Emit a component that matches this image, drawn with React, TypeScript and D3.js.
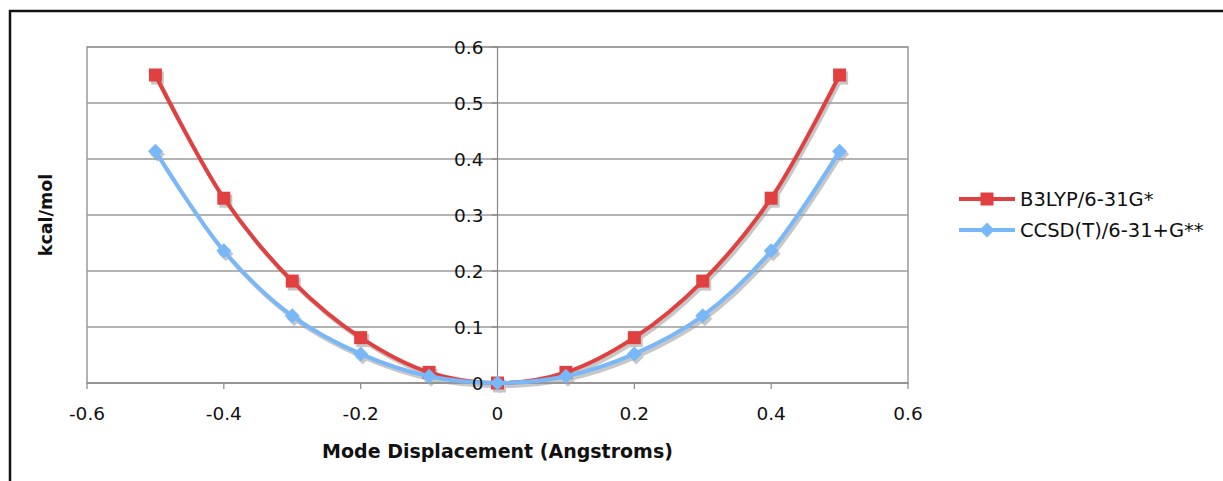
import * as d3 from "d3"

const xs = [-0.5, -0.4, -0.3, -0.2, -0.1, 0, 0.1, 0.2, 0.3, 0.4, 0.5]
const b3lyp = [0.55, 0.33, 0.182, 0.081, 0.019, 0, 0.019, 0.081, 0.182, 0.33, 0.55]
const ccsd = [0.414, 0.236, 0.12, 0.052, 0.012, 0, 0.012, 0.052, 0.12, 0.236, 0.414]
const xTicks = [-0.6, -0.4, -0.2, 0, 0.2, 0.4, 0.6]
const yTicks = [0, 0.1, 0.2, 0.3, 0.4, 0.5, 0.6]
const seriesNames = ["B3LYP/6-31G*", "CCSD(T)/6-31+G**"]

const W = 1223
const H = 481
const font = "'DejaVu Sans', sans-serif"

export default function App() {
  const x = d3.scaleLinear().domain([-0.6, 0.6]).range([87, 908])
  const y = d3.scaleLinear().domain([0, 0.6]).range([383, 47])

  const line = d3
    .line<number>()
    .x((_, i) => x(xs[i]))
    .y((d) => y(d))
    .curve(d3.curveCatmullRom.alpha(0.5))

  const series = [
    { name: seriesNames[0], values: b3lyp, color: "#e0403f", marker: "square" },
    { name: seriesNames[1], values: ccsd, color: "#78b8f8", marker: "diamond" },
  ]

  const marker = (kind: string, cx: number, cy: number, fill: string, key: string) =>
    kind === "square" ? (
      <rect key={key} x={cx - 6.5} y={cy - 6.5} width={13} height={13} fill={fill} />
    ) : (
      <path key={key} d={`M${cx},${cy - 7.5}L${cx + 7.5},${cy}L${cx},${cy + 7.5}L${cx - 7.5},${cy}Z`} fill={fill} />
    )

  const x0 = x(0)
  const y0 = y(0)

  return (
    <svg width={W} height={H} style={{ position: "absolute", left: 0, top: 0, fontFamily: font }}>
      <rect x={0} y={0} width={W} height={H} fill="#fff" />
      <rect x={10} y={11} width={W + 20} height={H + 20} fill="none" stroke="#111" strokeWidth={2.5} />

      {/* gridlines */}
      {yTicks.map((t) => (
        <line key={"g" + t} x1={x(-0.6)} x2={x(0.6)} y1={y(t)} y2={y(t)} stroke="#9a9a9a" strokeWidth={1.5} />
      ))}
      <rect x={x(-0.6)} y={y(0.6)} width={x(0.6) - x(-0.6)} height={y(0) - y(0.6)} fill="none" stroke="#9a9a9a" strokeWidth={1.5} />

      {/* axes crossing at zero */}
      <line x1={x0} x2={x0} y1={y(0.6)} y2={y0} stroke="#888" strokeWidth={1.2} />
      {yTicks.map((t) => (
        <line key={"yt" + t} x1={x0 - 6} x2={x0} y1={y(t)} y2={y(t)} stroke="#888" strokeWidth={1.2} />
      ))}
      <line x1={x(-0.6)} x2={x(0.6)} y1={y0} y2={y0} stroke="#888" strokeWidth={1.2} />
      {xTicks.map((t) => (
        <line key={"xt" + t} x1={x(t)} x2={x(t)} y1={y0} y2={y0 + 6} stroke="#888" strokeWidth={1.2} />
      ))}

      {/* shadows */}
      <g transform="translate(2,3)" opacity={0.55}>
        {series.map((s) => (
          <g key={"sh" + s.name}>
            <path d={line(s.values) || ""} fill="none" stroke="#9a9a9a" strokeWidth={4} />
            {s.values.map((v, i) => marker(s.marker, x(xs[i]), y(v), "#9a9a9a", "shm" + i))}
          </g>
        ))}
      </g>

      {/* series */}
      {series.map((s) => (
        <g key={s.name}>
          <path d={line(s.values) || ""} fill="none" stroke={s.color} strokeWidth={4} />
          {s.values.map((v, i) => marker(s.marker, x(xs[i]), y(v), s.color, "m" + i))}
        </g>
      ))}

      {/* tick labels */}
      {yTicks.map((t) => (
        <text key={"yl" + t} x={x0 - 14} y={y(t)} dy="0.36em" textAnchor="end" fontSize={18.5} fill="#111">
          {t === 0 ? "0" : d3.format(".1f")(t)}
        </text>
      ))}
      {xTicks.map((t) => (
        <text key={"xl" + t} x={x(t)} y={420} textAnchor="middle" fontSize={18.5} fill="#111">
          {t === 0 ? "0" : d3.format(".1f")(t).replace("−", "-")}
        </text>
      ))}

      <text x={x0} y={458} textAnchor="middle" fontSize={19} fontWeight="bold" fill="#111">
        Mode Displacement (Angstroms)
      </text>
      <text transform={`translate(52,${(y(0) + y(0.6)) / 2}) rotate(-90)`} textAnchor="middle" fontSize={17.5} fontWeight="bold" fill="#111">
        kcal/mol
      </text>

      {/* legend */}
      {series.map((s, i) => {
        const ly = 199 + i * 31
        return (
          <g key={"lg" + s.name}>
            <line x1={959} x2={1015} y1={ly} y2={ly} stroke={s.color} strokeWidth={4} />
            {marker(s.marker, 987, ly, s.color, "lm")}
            <text x={1020} y={ly} dy="0.36em" fontSize={19.5} fill="#111">
              {s.name}
            </text>
          </g>
        )
      })}
    </svg>
  )
}
